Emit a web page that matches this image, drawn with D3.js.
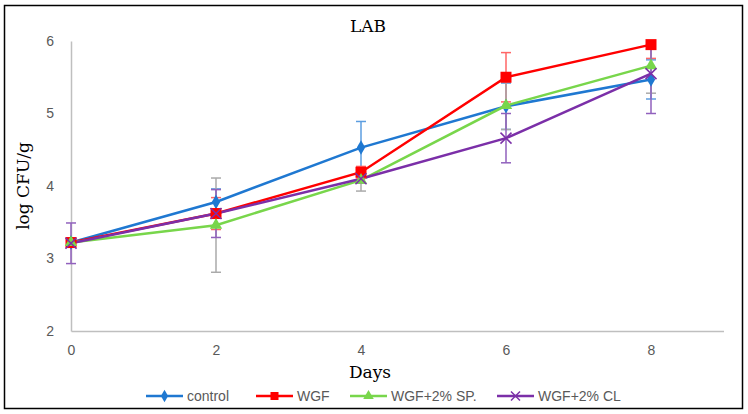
<!DOCTYPE html>
<html>
<head>
<meta charset="utf-8">
<script src="https://cdn.jsdelivr.net/npm/d3@7"></script>
<style>
  body { margin: 0; background: #fff; }
  svg text { font-family: "Liberation Sans", Arial, sans-serif; }
</style>
</head>
<body>
<div id="chart"></div>
<script>
const WIDTH = 748;
const HEIGHT = 414;

const days = [0, 2, 4, 6, 8];
const xTicks = [0, 2, 4, 6, 8];
const yTicks = [2, 3, 4, 5, 6];

const seriesNames = ['control', 'WGF', 'WGF+2% SP.', 'WGF+2% CL'];
const control = [3.22, 3.78, 4.53, 5.10, 5.47];
const wgf = [3.22, 3.62, 4.19, 5.50, 5.95];
const wgfSP = [3.22, 3.46, 4.08, 5.11, 5.66];
const wgfCL = [3.21, 3.62, 4.10, 4.66, 5.55];

// error bar half widths
const controlErr = [0, 0.18, 0.36, 0.32, 0.27];
const wgfErr = [0, 0.22, 0.08, 0.34, 0.19];
const wgfSPErr = [0, 0.65, 0.15, 0.33, 0.38];
const wgfCLErr = [0.28, 0.33, 0.06, 0.34, 0.55];

const colors = ['#1f78d1', '#ff0000', '#78d64b', '#7b2fa8'];
const errColors = ['#5c9ee0', '#ff6666', '#aaaaaa', '#9161bd'];
const markers = ['diamond', 'square', 'triangle', 'cross'];

const series = [
    { name: seriesNames[0], values: control, err: controlErr },
    { name: seriesNames[1], values: wgf, err: wgfErr },
    { name: seriesNames[2], values: wgfSP, err: wgfSPErr },
    { name: seriesNames[3], values: wgfCL, err: wgfCLErr },
];

const svg = d3.select('#chart')
    .append('svg')
    .attr('width', WIDTH)
    .attr('height', HEIGHT);

// outer frame
svg.append('rect')
    .attr('x', 4.5).attr('y', 5.5)
    .attr('width', 738).attr('height', 403)
    .attr('fill', '#fff')
    .attr('stroke', '#000')
    .attr('stroke-width', 1.5);

// Scales
const xScale = d3.scaleLinear().domain([0, 9]).range([71, 723.5]);
const yScale = d3.scaleLinear().domain([2, 6]).range([331, 41]);

svg.append('clipPath').attr('id', 'plotclip')
    .append('rect')
    .attr('x', 60).attr('y', 41)
    .attr('width', 680).attr('height', 291);

// Axes
const xAxis = svg.append('g')
    .attr('transform', `translate(0,${yScale(2)})`)
    .call(d3.axisBottom(xScale).tickValues(xTicks).tickSize(0).tickPadding(14).tickFormat(d3.format('d')));
xAxis.select('.domain').attr('stroke', '#bfbfbf').attr('stroke-width', 1.5);
xAxis.selectAll('text').attr('fill', '#595959').attr('font-size', 14);

const yAxis = svg.append('g')
    .attr('transform', `translate(${xScale(0)},0)`)
    .call(d3.axisLeft(yScale).tickValues(yTicks).tickSize(0).tickPadding(17).tickFormat(d3.format('d')));
yAxis.select('.domain').attr('stroke', '#bfbfbf').attr('stroke-width', 1.5);
yAxis.selectAll('text').attr('fill', '#595959').attr('font-size', 14);

// Titles
svg.append('text')
    .text('LAB')
    .attr('x', 368).attr('y', 32)
    .attr('text-anchor', 'middle')
    .attr('font-size', 17)
    .style('font-family', '"DejaVu Serif", "Liberation Serif", serif')
    .attr('fill', '#000');

svg.append('text')
    .text('Days')
    .attr('x', 370).attr('y', 378)
    .attr('text-anchor', 'middle')
    .attr('font-size', 17)
    .style('font-family', '"DejaVu Serif", "Liberation Serif", serif')
    .attr('fill', '#000');

svg.append('text')
    .text('log  CFU/g')
    .attr('transform', 'translate(29,186) rotate(-90)')
    .attr('text-anchor', 'middle')
    .attr('font-size', 17)
    .style('font-family', '"DejaVu Serif", "Liberation Serif", serif')
    .attr('fill', '#000');

const plot = svg.append('g').attr('clip-path', 'url(#plotclip)');

// Lines
const line = d3.line()
    .x((d, i) => xScale(days[i]))
    .y(d => yScale(d));

series.forEach((s, k) => {
    plot.append('path')
        .datum(s.values)
        .attr('d', line)
        .attr('fill', 'none')
        .attr('stroke', colors[k])
        .attr('stroke-width', 2.5);
});

// Error bars
series.forEach((s, k) => {
    const g = plot.append('g');
    s.values.forEach((v, i) => {
        const e = s.err[i];
        if (!e) return;
        const x = xScale(days[i]);
        g.append('line')
            .attr('x1', x).attr('x2', x)
            .attr('y1', yScale(v - e)).attr('y2', yScale(v + e))
            .attr('stroke', errColors[k]).attr('stroke-width', 1.5);
        [v - e, v + e].forEach(c => {
            g.append('line')
                .attr('x1', x - 5).attr('x2', x + 5)
                .attr('y1', yScale(c)).attr('y2', yScale(c))
                .attr('stroke', errColors[k]).attr('stroke-width', 1.5);
        });
    });
});

// Markers
function drawMarker(g, type, x, y, color, size) {
    if (type === 'diamond') {
        g.append('path')
            .attr('d', d3.symbol().type(d3.symbolDiamond).size(size * 5.5)())
            .attr('transform', `translate(${x},${y})`)
            .attr('fill', color);
    } else if (type === 'square') {
        g.append('rect')
            .attr('x', x - size / 2).attr('y', y - size / 2)
            .attr('width', size).attr('height', size)
            .attr('fill', color);
    } else if (type === 'triangle') {
        g.append('path')
            .attr('d', d3.symbol().type(d3.symbolTriangle).size(size * 6)())
            .attr('transform', `translate(${x},${y})`)
            .attr('fill', color);
    } else {
        const h = size / 2;
        g.append('path')
            .attr('d', `M${x - h},${y - h}L${x + h},${y + h}M${x - h},${y + h}L${x + h},${y - h}`)
            .attr('stroke', color)
            .attr('stroke-width', 1.5);
    }
}

series.forEach((s, k) => {
    const g = svg.append('g');
    s.values.forEach((v, i) => {
        drawMarker(g, markers[k], xScale(days[i]), yScale(v), colors[k], 11);
    });
});

// Legend
const legendX = [146, 256, 350, 497];
const legend = svg.append('g');
series.forEach((s, k) => {
    const x0 = legendX[k];
    const y0 = 396;
    legend.append('line')
        .attr('x1', x0).attr('x2', x0 + 37)
        .attr('y1', y0).attr('y2', y0)
        .attr('stroke', colors[k]).attr('stroke-width', 2.5);
    drawMarker(legend, markers[k], x0 + 18.5, y0, colors[k], k === 3 ? 9 : 8);
    legend.append('text')
        .text(s.name)
        .attr('x', x0 + 41).attr('y', y0 + 5)
        .attr('font-size', 14)
        .attr('fill', '#595959');
});
</script>
</body>
</html>
